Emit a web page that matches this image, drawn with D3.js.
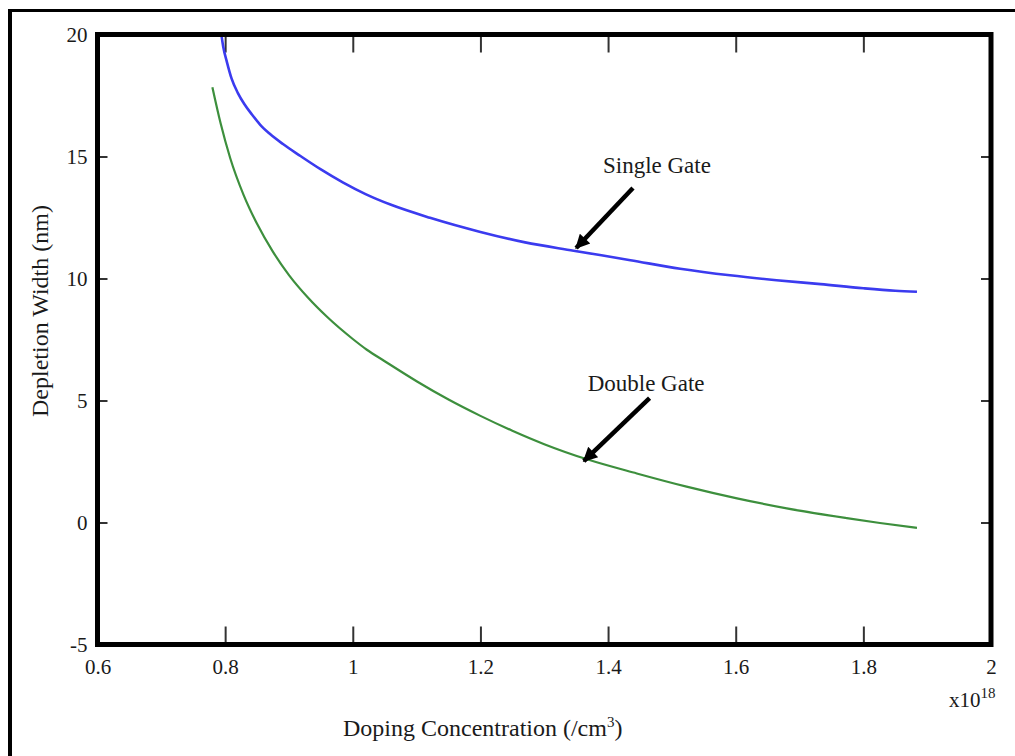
<!DOCTYPE html>
<html>
<head>
<meta charset="utf-8">
<script src="https://cdn.jsdelivr.net/npm/d3@7"></script>
<style>
  html, body { margin: 0; padding: 0; background: #fff; }
  svg { display: block; }
  text { font-family: "Liberation Serif", "Times New Roman", serif; fill: #1a1a1a; }
</style>
</head>
<body>
<svg id="chart" width="1015" height="756"></svg>
<script>
// Doping concentration (x10^18 /cm^3) and depletion width (nm)
const singleGateX = [0.792, 0.797, 0.803, 0.810, 0.820, 0.830, 0.842, 0.855, 0.870, 0.890,
                     0.918, 0.950, 0.985, 1.020, 1.060, 1.121, 1.200, 1.270, 1.346, 1.435,
                     1.513, 1.591, 1.664, 1.733, 1.800, 1.850, 1.884];
const singleGateY = [20.4, 19.5, 18.85, 18.2, 17.6, 17.15, 16.72, 16.30, 15.93, 15.52,
                     15.02, 14.47, 13.93, 13.46, 13.02, 12.49, 11.91, 11.48, 11.14, 10.75,
                     10.40, 10.13, 9.93, 9.77, 9.60, 9.50, 9.46];

const doubleGateX = [0.780, 0.793, 0.808, 0.829, 0.850, 0.875, 0.900, 0.930, 0.960, 1.000,
                     1.022, 1.050, 1.100, 1.150, 1.200, 1.250, 1.300, 1.367, 1.445, 1.523,
                     1.602, 1.680, 1.774, 1.826, 1.884];
const doubleGateY = [17.84, 16.35, 14.93, 13.42, 12.24, 11.09, 10.14, 9.21, 8.42, 7.52,
                     7.08, 6.61, 5.79, 5.04, 4.37, 3.76, 3.21, 2.59, 2.01, 1.47,
                     0.99, 0.58, 0.18, -0.02, -0.22];

const xTicks = [0.6, 0.8, 1, 1.2, 1.4, 1.6, 1.8, 2];
const yTicks = [-5, 0, 5, 10, 15, 20];

// Curve annotations: label anchor, arrow tail, arrow tip (data units)
const noteText = ["Single Gate", "Double Gate"];
const noteLabel = [[1.392, 14.32], [1.368, 5.39]];
const noteTail = [[1.439, 13.71], [1.465, 5.10]];
const noteTip = [[1.350, 11.25], [1.362, 2.52]];

const svg = d3.select("#chart");
const box = { left: 97.5, right: 991, top: 34.5, bottom: 644.5 };

const x = d3.scaleLinear().domain([0.6, 2]).range([box.left, box.right]);
const y = d3.scaleLinear().domain([-5, 20]).range([box.bottom, box.top]);

svg.append("rect").attr("width", 1015).attr("height", 756).attr("fill", "#fff");

// page frame
svg.append("line").attr("x1", 10).attr("x2", 10).attr("y1", 9).attr("y2", 756)
  .attr("stroke", "#000").attr("stroke-width", 4);
svg.append("line").attr("x1", 8).attr("x2", 1015).attr("y1", 10.5).attr("y2", 10.5)
  .attr("stroke", "#000").attr("stroke-width", 3);

svg.append("defs").append("clipPath").attr("id", "plotClip")
  .append("rect").attr("x", box.left).attr("y", box.top)
  .attr("width", box.right - box.left).attr("height", box.bottom - box.top);

// axes with inward ticks on all four sides
const plain = d => String(d);
function styleAxis(g) {
  g.select(".domain").remove();
  g.selectAll(".tick line").attr("stroke", "#333").attr("stroke-width", 2);
  g.selectAll(".tick text").style("font-size", "21px").attr("fill", "#1a1a1a")
    .style("font-family", "'Liberation Serif', serif");
}
svg.append("g").attr("transform", `translate(0,${box.bottom})`)
  .call(d3.axisBottom(x).tickValues(xTicks).tickSize(-18).tickPadding(15).tickFormat(plain))
  .call(styleAxis);
svg.append("g").attr("transform", `translate(0,${box.top})`)
  .call(d3.axisTop(x).tickValues(xTicks).tickSize(-18).tickFormat(""))
  .call(styleAxis);
svg.append("g").attr("transform", `translate(${box.left},0)`)
  .call(d3.axisLeft(y).tickValues(yTicks).tickSize(-10).tickPadding(10).tickFormat(plain))
  .call(styleAxis);
svg.append("g").attr("transform", `translate(${box.right},0)`)
  .call(d3.axisRight(y).tickValues(yTicks).tickSize(-10).tickFormat(""))
  .call(styleAxis);

// curves
const line = d3.line().x(d => x(d[0])).y(d => y(d[1])).curve(d3.curveMonotoneX);
const plot = svg.append("g").attr("clip-path", "url(#plotClip)");
plot.append("path").datum(d3.zip(doubleGateX, doubleGateY))
  .attr("d", line).attr("fill", "none").attr("stroke", "#3d8f3d").attr("stroke-width", 2.2);
plot.append("path").datum(d3.zip(singleGateX, singleGateY))
  .attr("d", line).attr("fill", "none").attr("stroke", "#3b3bef").attr("stroke-width", 2.6);

// plot box
svg.append("rect").attr("x", box.left).attr("y", box.top)
  .attr("width", box.right - box.left).attr("height", box.bottom - box.top)
  .attr("fill", "none").attr("stroke", "#000").attr("stroke-width", 5);

// annotation arrows
svg.select("defs").append("marker").attr("id", "head")
  .attr("viewBox", "0 0 10 10").attr("refX", 9).attr("refY", 5)
  .attr("markerWidth", 4).attr("markerHeight", 3.2).attr("orient", "auto")
  .attr("markerUnits", "strokeWidth")
  .append("path").attr("d", "M0,0 L10,5 L0,10 Z").attr("fill", "#000");

noteText.forEach((t, i) => {
  svg.append("line")
    .attr("x1", x(noteTail[i][0])).attr("y1", y(noteTail[i][1]))
    .attr("x2", x(noteTip[i][0])).attr("y2", y(noteTip[i][1]))
    .attr("stroke", "#000").attr("stroke-width", 4.5).attr("marker-end", "url(#head)");
  svg.append("text").attr("x", x(noteLabel[i][0])).attr("y", y(noteLabel[i][1]))
    .style("font-size", "23px").text(t);
});

// axis titles
const xt = svg.append("text").attr("x", 343).attr("y", 736).style("font-size", "24px");
xt.append("tspan").text("Doping Concentration (/cm");
xt.append("tspan").attr("dy", -9).style("font-size", "15px").text("3");
xt.append("tspan").attr("dy", 9).text(")");

svg.append("text").attr("transform", "translate(48,417) rotate(-90)")
  .style("font-size", "24px").text("Depletion Width (nm)");

const ex = svg.append("text").attr("x", 949).attr("y", 707).style("font-size", "21px");
ex.append("tspan").text("x10");
ex.append("tspan").attr("dy", -9).style("font-size", "15px").text("18");
</script>
</body>
</html>
